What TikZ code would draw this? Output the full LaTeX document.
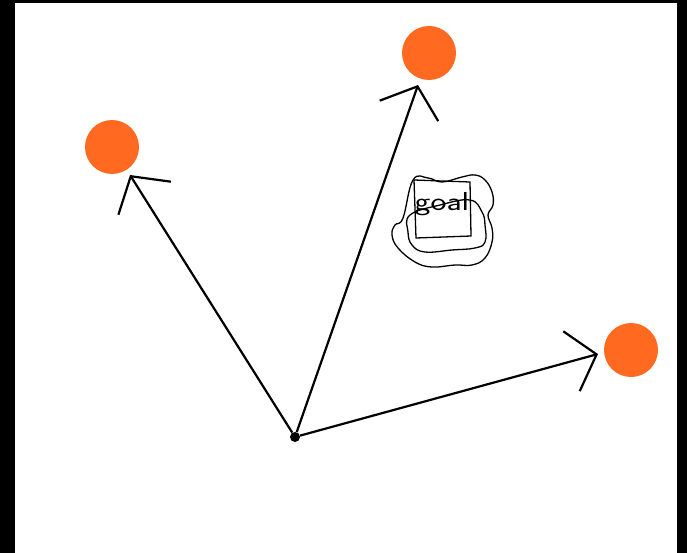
\documentclass[tikz,border=0pt]{standalone}
\usepackage{fontspec}
\usepackage{xcolor}
\usepackage{tikz}
\usetikzlibrary{arrows.meta}

\definecolor{dotorange}{RGB}{255,106,32}

\begin{document}
\begin{tikzpicture}[
    x=1pt, y=-1pt,
    target/.style={circle, fill=dotorange, minimum size=54pt, inner sep=0pt},
    hub/.style={circle, fill=black, minimum size=10pt, inner sep=0pt},
    arrow/.style={-{Straight Barb[length=26pt, width=62pt, line width=2.2pt]}, line width=2.2pt},
    scribble/.style={line width=1.3pt}
]
    % frame
    \fill[black] (0,0) rectangle (687,553);
    \fill[white] (15,3) rectangle (677,553);
    \useasboundingbox (0,0) rectangle (687,553);

    \node[hub] (origin) at (295,437) {};
    \coordinate (tipleft) at (130,175);
    \coordinate (tipup) at (418,85);
    \coordinate (tipright) at (598,354);

    \node[target] (left) at (112,147) {};
    \node[target] (up) at (429,53) {};
    \node[target] (right) at (631,350) {};

    \draw[arrow] (origin) -- (tipleft);
    \draw[arrow] (origin) -- (tipup);
    \draw[arrow] (origin) -- (tipright);

    % goal scribble
    \node (goal) at (442,204) {\sffamily\fontsize{26}{26}\selectfont\scalebox{1.3}[1]{goal}};
    \draw[scribble] (414,180) -- (470,182) -- (471,236) -- (416,238) -- cycle;
    \draw[scribble] plot[smooth cycle, tension=0.7] coordinates {
        (413,180) (428,178) (442,182) (462,177) (475,175) (485,180) (492,192)
        (493,205) (488,215) (492,228) (492,242) (485,258) (472,265) (455,265)
        (432,267) (415,262) (398,248) (392,235) (395,225) (403,218)};
    \draw[scribble] plot[smooth cycle, tension=0.7] coordinates {
        (410,215) (408,232) (412,245) (425,252) (452,250) (475,248)
        (485,242) (485,225) (482,212) (470,200) (440,205)};
\end{tikzpicture}
\end{document}
